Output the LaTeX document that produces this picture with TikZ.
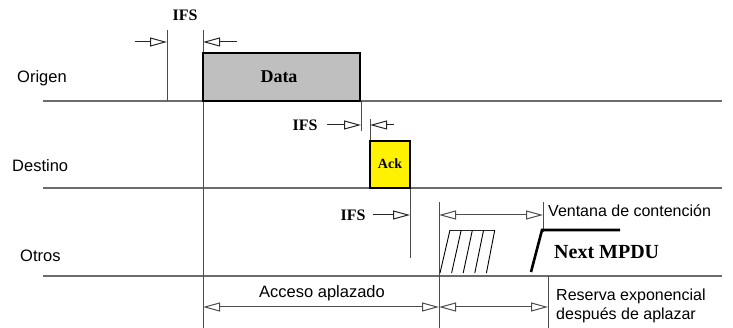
\documentclass[tikz,border=0pt]{standalone}
\usepackage{fontspec}
\setmainfont{Liberation Serif}
\setsansfont{Liberation Sans}
\usetikzlibrary{arrows.meta,positioning}

\tikzset{
  tri/.tip={Triangle[open,length=17pt,width=9pt,line width=1pt]},
  lane/.style={gray!85!black, line width=1.3pt},
  tick/.style={gray!60!black, line width=1pt},
  ifsarrow/.style={-tri, gray!30!black, line width=1pt},
  lbl/.style={font=\sffamily\fontsize{16.5}{18}\selectfont, inner sep=0pt},
  tlbl/.style={font=\bfseries\fontsize{16}{17}\selectfont, inner sep=0pt},
  frame/.style={draw=black, line width=2.6pt}
}

\begin{document}
\begin{tikzpicture}[x=1pt, y=-1pt]
  \useasboundingbox (0,0) rectangle (733,328);
  % station lanes
  \draw[lane] (43,101) -- (722,101);
  \draw[lane] (43,188) -- (722,188);
  \draw[lane] (43,276) -- (722,276);
  \node[lbl, anchor=west] (origen) at (17,78) {Origen};
  \node[lbl, anchor=west] (destino) at (12,166) {Destino};
  \node[lbl, anchor=west] (otros) at (20,256) {Otros};
  % first IFS and data frame
  \draw[tick] (167,30) -- (167,101);
  \draw[tick] (203,30) -- (203,328);
  \draw[ifsarrow] (135,42) -- (167,42);
  \draw[ifsarrow] (237,42) -- (203,42);
  \node[tlbl] (ifsa) at (185,15) {IFS};
  \draw[frame, fill=gray!50] (203,53) rectangle (360,101);
  \node[font=\bfseries\fontsize{18}{19}\selectfont] (data) at (279,77) {Data};
  % second IFS and ack
  \draw[tick] (361,101) -- (361,131);
  \draw[tick] (370,119) -- (370,141);
  \draw[ifsarrow] (327,125) -- (361,125);
  \draw[ifsarrow] (394,125) -- (370,125);
  \node[tlbl] (ifsb) at (305,125) {IFS};
  \draw[tick] (410,188) -- (410,258);
  \draw[frame, fill=yellow] (370,141) rectangle (410,188);
  \node[font=\bfseries\fontsize{14}{15}\selectfont] (ack) at (390,164) {Ack};
  % third IFS and contention window
  \draw[ifsarrow] (373,215) -- (410,215);
  \node[tlbl] (ifsc) at (353,215) {IFS};
  \draw[tick] (439,202) -- (439,328);
  \draw[tick] (543,202) -- (543,232);
  \draw[tick, tri-tri] (439,215) -- (543,215);
  \node[lbl, font=\sffamily\fontsize{16}{18}\selectfont, anchor=west] (ventana) at (548,211) {Ventana de contención};
  \draw[gray!30!black, line width=0.9pt] (450,230) -- (495,230);
  \foreach \k in {0,...,4}
    \draw[black, line width=0.9pt] (440+11.6*\k,273) -- (450+11.2*\k,230);
  \draw[black, line width=2.6pt] (531,272) -- (542,230) -- (620,230);
  \node[font=\bfseries\fontsize{20}{22}\selectfont, inner sep=0pt, anchor=west] (mpdu) at (554,252) {Next MPDU};
  % deferral and backoff
  \draw[tick] (548,276) -- (548,328);
  \draw[tick, tri-tri] (203,307) -- (439,307);
  \draw[tick, tri-tri] (439,307) -- (548,307);
  \node[lbl] (acceso) at (322,293) {Acceso aplazado};
  \node[lbl, anchor=north west, align=left, font=\sffamily\fontsize{16}{19}\selectfont] (reserva) at (556,289) {Reserva exponencial\\después de aplazar};
\end{tikzpicture}
\end{document}
